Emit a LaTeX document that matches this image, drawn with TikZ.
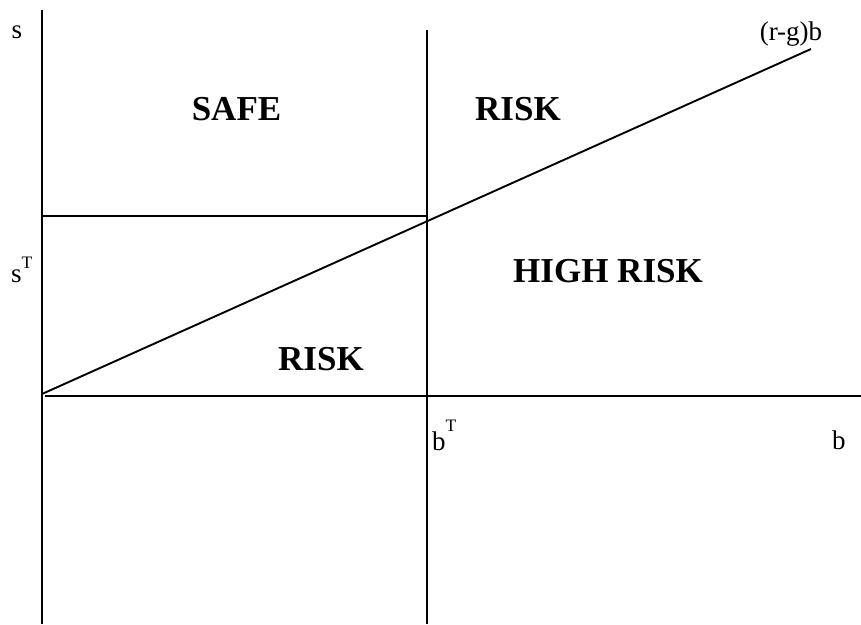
\documentclass[tikz,border=0pt]{standalone}
\usepackage{fontspec}
\setmainfont{Liberation Serif}
\newcommand{\supT}[1]{\raisebox{#1}{\fontsize{17.5}{18}\selectfont T}}
\begin{document}
\begin{tikzpicture}[x=1pt,y=-1pt,
  axis/.style={line width=1.9pt,line cap=butt},
  region/.style={font=\fontsize{35}{40}\selectfont\bfseries,anchor=base,inner sep=0pt},
  lab/.style={font=\fontsize{27}{30}\selectfont,inner sep=0pt}]
\useasboundingbox (0,0) rectangle (861,624);
\coordinate (ytop) at (42,10);
\coordinate (ybot) at (42,624);
\coordinate (vtop) at (427,30);
\coordinate (vbot) at (427,624);
\coordinate (xl) at (45,396);
\coordinate (xr) at (861,396);
\coordinate (hl) at (42,216);
\coordinate (hr) at (427,216);
\coordinate (d0) at (42,394);
\coordinate (d1) at (811,49);
\draw[axis] (ytop) -- (ybot);
\draw[axis] (vtop) -- (vbot);
\draw[axis] (xl) -- (xr);
\draw[axis] (hl) -- (hr);
\draw[axis] (d0) -- (d1);
\node[region] (safe) at (236.5,120) {SAFE};
\node[region] (risk1) at (518,120) {RISK};
\node[region] (high) at (608,282) {HIGH RISK};
\node[region] (risk2) at (321,370) {RISK};
\node[lab,anchor=base] (s) at (17,38) {s};
\node[lab,anchor=base] (rg) at (791,40) {(r-g)b};
\node[lab,anchor=base west] (sT) at (11,282) {s\supT{14pt}};
\node[lab,anchor=base west] (bT) at (432,450) {b\supT{19pt}};
\node[lab,anchor=base west] (b) at (832,449) {b};
\end{tikzpicture}
\end{document}
